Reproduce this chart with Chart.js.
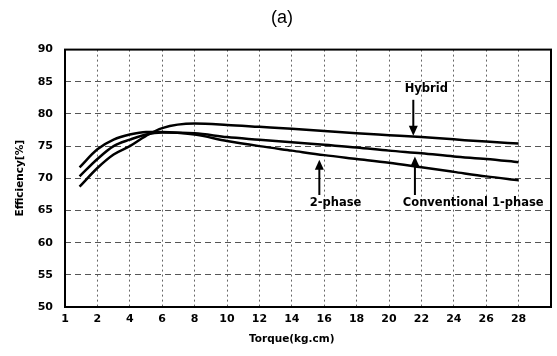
<!DOCTYPE html>
<html>
<head>
<meta charset="utf-8">
<title>Efficiency vs Torque</title>
<script src="https://cdn.jsdelivr.net/npm/chart.js@4.4.0/dist/chart.umd.min.js"></script>
<style>
    body { margin: 0; background: #fff; }
    #wrap { width: 557px; height: 356px; }
</style>
</head>
<body>
<div id="wrap"><canvas id="effChart" width="557" height="356"></canvas></div>
<script>
// Efficiency curves (a)
const torque = [1.45, 2, 3, 4, 5, 6, 8, 10, 12, 14, 16, 18, 20, 22, 24, 26, 28];
const hybrid = [68.7, 71.6, 73.7, 75.0, 76.6, 77.8, 78.5, 78.3, 78.0, 77.7, 77.35, 77.0, 76.7, 76.4, 76.05, 75.7, 75.4];
const conventional = [70.3, 73.0, 75.0, 76.0, 76.8, 77.1, 77.0, 76.4, 76.0, 75.6, 75.2, 74.8, 74.3, 73.9, 73.4, 73.0, 72.5];
const twoPhase = [71.7, 74.5, 76.0, 76.8, 77.2, 77.2, 76.8, 75.8, 75.0, 74.3, 73.6, 73.0, 72.4, 71.7, 71.0, 70.3, 69.7];

const tickTorques = [1, 2, 4, 6, 8, 10, 12, 14, 16, 18, 20, 22, 24, 26, 28];
const yTicks = [50, 55, 60, 65, 70, 75, 80, 85, 90];

// labels: text, anchor torque/efficiency, arrow tail and tip efficiency
const notes = [
    { text: 'Hybrid', x: 22.3, y: 83.9, arrowX: 21.5, from: 82.2, to: 76.6 },
    { text: '2-phase', x: 16.7, y: 66.2, arrowX: 15.7, from: 67.4, to: 72.9 },
    { text: 'Conventional 1-phase', x: 25.2, y: 66.2, arrowX: 21.6, from: 67.4, to: 73.4 }
];

// the x axis is spaced by tick, not by value: 1 and 2 then every 2
function torqueToPos(t) {
    return t <= 2 ? t - 1 : t / 2;
}

function toPoints(values) {
    return values.map((v, i) => ({ x: torqueToPos(torque[i]), y: v }));
}

const boldFont = { family: 'DejaVu Sans', weight: 'bold' };

const frameAndNotes = {
    id: 'frameAndNotes',
    afterDraw(chart) {
        const { ctx, chartArea, scales } = chart;
        ctx.save();
        ctx.strokeStyle = '#000';
        ctx.lineWidth = 2;
        ctx.strokeRect(chartArea.left, chartArea.top, chartArea.right - chartArea.left, chartArea.bottom - chartArea.top);

        ctx.fillStyle = '#000';
        ctx.textAlign = 'center';
        ctx.textBaseline = 'middle';

        // x title sits a little left of the plot centre in the original
        ctx.font = 'bold 10.5px "DejaVu Sans"';
        ctx.fillText('Torque(kg.cm)', scales.x.getPixelForValue(torqueToPos(14)), chartArea.bottom + 32);

        ctx.font = 'bold 11.5px "DejaVu Sans"';
        notes.forEach(n => {
            ctx.fillText(n.text, scales.x.getPixelForValue(torqueToPos(n.x)), scales.y.getPixelForValue(n.y));

            const ax = scales.x.getPixelForValue(torqueToPos(n.arrowX));
            const y0 = scales.y.getPixelForValue(n.from);
            const y1 = scales.y.getPixelForValue(n.to);
            const dir = y1 > y0 ? 1 : -1;
            ctx.lineWidth = 2;
            ctx.beginPath();
            ctx.moveTo(ax, y0);
            ctx.lineTo(ax, y1 - dir * 8);
            ctx.stroke();
            ctx.beginPath();
            ctx.moveTo(ax, y1);
            ctx.lineTo(ax - 4.5, y1 - dir * 10);
            ctx.lineTo(ax + 4.5, y1 - dir * 10);
            ctx.closePath();
            ctx.fill();
        });
        ctx.restore();
    }
};

function lineSet(label, values) {
    return {
        label: label,
        data: toPoints(values),
        borderColor: '#000',
        borderWidth: 2.5,
        pointRadius: 0,
        fill: false,
        cubicInterpolationMode: 'monotone'
    };
}

function buildChart() {
    const ctx = document.getElementById('effChart').getContext('2d');
    new Chart(ctx, {
        type: 'line',
        data: {
            datasets: [
                lineSet('Hybrid', hybrid),
                lineSet('Conventional 1-phase', conventional),
                lineSet('2-phase', twoPhase)
            ]
        },
        options: {
            responsive: false,
            animation: false,
            layout: { padding: { left: 11, right: 4, top: 0, bottom: 0 } },
            plugins: {
                legend: { display: false },
                tooltip: { enabled: false },
                title: {
                    display: true,
                    text: '(a)',
                    color: '#000',
                    font: { family: 'Liberation Sans', size: 18, weight: 'normal' },
                    padding: { top: 7, bottom: 21 }
                }
            },
            scales: {
                x: {
                    type: 'linear',
                    min: 0,
                    max: 15,
                    afterFit: s => { s.height = 49; },
                    afterBuildTicks: s => { s.ticks = tickTorques.concat([30]).map((t, i) => ({ value: i })); },
                    ticks: {
                        color: '#000',
                        font: Object.assign({ size: 11 }, boldFont),
                        padding: 6,
                        autoSkip: false,
                        maxRotation: 0,
                        callback: v => (tickTorques[v] !== undefined ? String(tickTorques[v]) : '')
                    },
                    grid: { color: '#666', lineWidth: 1, drawTicks: false },
                    border: { display: false, dash: [2, 3] },
                    title: { display: false }
                },
                y: {
                    min: 50,
                    max: 90,
                    afterFit: s => { s.width = 54; },
                    afterBuildTicks: s => { s.ticks = yTicks.map(v => ({ value: v })); },
                    ticks: {
                        color: '#000',
                        font: Object.assign({ size: 11 }, boldFont),
                        padding: 12
                    },
                    grid: { color: '#555', lineWidth: 1, drawTicks: false },
                    border: { display: false, dash: [6, 4] },
                    title: {
                        display: true,
                        text: 'Efficiency[%]',
                        color: '#000',
                        font: Object.assign({ size: 10.5 }, boldFont),
                        padding: { top: 3, bottom: 0 }
                    }
                }
            }
        },
        plugins: [frameAndNotes]
    });
}

document.addEventListener('DOMContentLoaded', buildChart);
</script>
</body>
</html>
